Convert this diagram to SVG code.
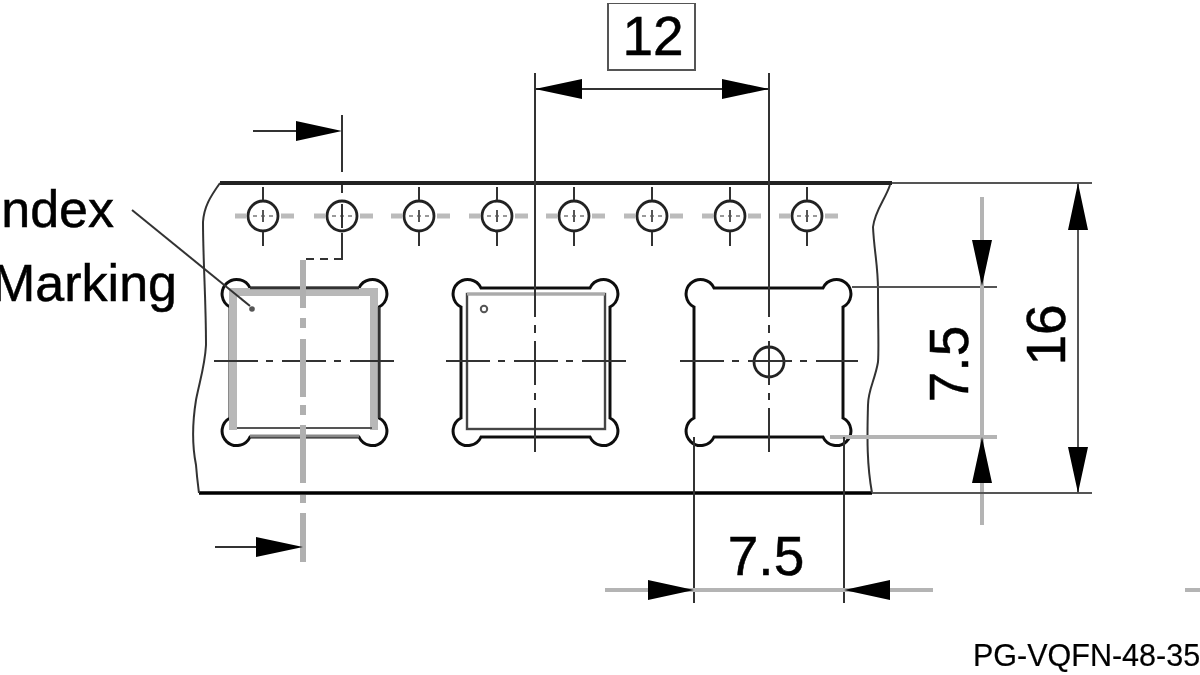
<svg xmlns="http://www.w3.org/2000/svg" xmlns:xlink="http://www.w3.org/1999/xlink" width="1200" height="675" viewBox="0 0 1200 675">
<style>
text{font-family:"Liberation Sans",Arial,sans-serif;fill:#000;stroke:#000;stroke-width:0.5px;font-size:52px}
.dim{font-size:55px}
.d{stroke:#333;stroke-width:2;fill:none}
.k{stroke:#111;stroke-width:3;fill:none}
.g{stroke:#b4b4b4;stroke-width:4;fill:none}
.m{stroke:#555;stroke-width:2;fill:none}
.a{fill:#000;stroke:none}
.c{stroke:#333;stroke-width:2;fill:none;stroke-dasharray:44 8 7 9}
</style>
<defs>
<filter id="soft" x="0" y="0" width="100%" height="100%"><feGaussianBlur stdDeviation="0.7"/></filter>
<path id="pocket" class="k" d="M250,288A14.6,14.6 0 1 0 230,307V418A14.6,14.6 0 1 0 250,437H359A14.6,14.6 0 1 0 379,418V307A14.6,14.6 0 1 0 359,288Z"/>
<g id="hole">
<path d="M-28,0H-17M18,0H31" stroke="#bbb" stroke-width="5" fill="none"/>
<path d="M-10,0H10" stroke="#999" stroke-width="2" stroke-dasharray="4 4"/>
<path d="M0,-6V6" stroke="#555" stroke-width="2"/>
<circle r="15" fill="none" stroke="#222" stroke-width="2.8"/>
</g>
<path id="ticks" class="d" d="M0,-29V-16M0,16V30"/>
</defs>
<g filter="url(#soft)">
<g id="tape">
<path d="M220,183H892" stroke="#222" stroke-width="4" fill="none"/>
<path d="M199,493H872" stroke="#000" stroke-width="3.4" fill="none"/>
<path class="d" d="M220,183C210,197 204,207 203,222C203,260 206,300 206,345C205,365 200,380 196,400C192,425 192,445 196,465C197,478 198,485 199,493"/>
<path class="d" d="M890,185C885,200 875,210 873,227C874,250 878,265 878,290C878,330 879,350 878,362C875,380 868,390 868,405C867,440 867,465 872,493"/>
</g>
<g id="sprockets">
<g transform="translate(263,216)"><use xlink:href="#hole" href="#hole"/><use xlink:href="#ticks" href="#ticks"/></g>
<g transform="translate(342,216)"><use xlink:href="#hole" href="#hole"/></g>
<g transform="translate(419,216)"><use xlink:href="#hole" href="#hole"/><use xlink:href="#ticks" href="#ticks"/></g>
<g transform="translate(497,216)"><use xlink:href="#hole" href="#hole"/><use xlink:href="#ticks" href="#ticks"/></g>
<g transform="translate(574,216)"><use xlink:href="#hole" href="#hole"/><use xlink:href="#ticks" href="#ticks"/></g>
<g transform="translate(652,216)"><use xlink:href="#hole" href="#hole"/><use xlink:href="#ticks" href="#ticks"/></g>
<g transform="translate(730,216)"><use xlink:href="#hole" href="#hole"/><use xlink:href="#ticks" href="#ticks"/></g>
<g transform="translate(807,216)"><use xlink:href="#hole" href="#hole"/><use xlink:href="#ticks" href="#ticks"/></g>
</g>
<g id="pocket-1">
<use xlink:href="#pocket" href="#pocket"/>
<path d="M233,430V292H374V430" stroke="#b8b8b8" stroke-width="8" fill="none"/>
<path d="M250,288H359M379,307V418" stroke="#333" stroke-width="2.4" fill="none"/>
<path class="m" d="M237,428H372"/>
<path d="M250,436H359" stroke="#888" stroke-width="3" fill="none"/>
<path class="c" d="M214,361H394"/>
</g>
<g id="pocket-2">
<rect x="467" y="294" width="138" height="135" stroke="#444" stroke-width="2.4" fill="none"/>
<path d="M467,294H605" stroke="#aaa" stroke-width="3" fill="none"/>
<use xlink:href="#pocket" href="#pocket" x="231"/>
<circle cx="484" cy="309" r="3.2" class="m"/>
<path class="c" d="M446,361H626"/>
</g>
<g id="pocket-3">
<use xlink:href="#pocket" href="#pocket" x="464"/>
<circle cx="769" cy="362" r="15" fill="none" stroke="#222" stroke-width="2.8"/>
<path class="c" d="M680,361H858"/>
</g>
<g id="connectors">
<path class="d" d="M535,73V317M535,325V333M535,341V385M535,393V400M535,408V452"/>
<path class="d" d="M769,73V317M769,325V333M769,341V385M769,393V400M769,408V452"/>
<path class="d" d="M535,89H769"/>
<path class="a" d="M535,89L582,79V99ZM769,89L722,79V99Z"/>
<path class="d" d="M253,131H300"/>
<path class="a" d="M342,131L296,121V141Z"/>
<path class="d" d="M342,115V172M342,185V193M342,204V228M342,233V260"/>
<path class="d" d="M342,259H303" stroke-dasharray="8 6"/>
<path d="M303,260V562" fill="none" stroke="#b0b0b0" stroke-width="6" stroke-dasharray="48 10 10 11 58 8 10 10 58 12 8 10 49"/>
<path class="d" d="M215,547H260"/>
<path class="a" d="M303,547L256,537V557Z"/>
<path class="d" d="M132,210L250,306"/>
<circle cx="252" cy="309" r="2.8" fill="#555"/>
<path class="m" d="M852,287H997"/>
<path class="g" d="M830,437H997"/>
<path class="g" d="M982,197V525"/>
<path class="a" d="M982,286L972,240H992ZM982,437L972,483H992Z"/>
<path class="m" d="M892,183H1092M872,493H1092"/>
<path class="m" d="M1078,183V493"/>
<path class="a" d="M1078,183L1068,230H1088ZM1078,493L1068,447H1088Z"/>
<path class="d" d="M694,437V603M844,437V603"/>
<path class="g" d="M605,590H933M1185,590H1200"/>
<path class="a" d="M694,590L648,580V600ZM844,590L890,580V600Z"/>
</g>
<g id="dim-12">
<rect x="608" y="3" width="87" height="67" fill="#fff" stroke="#555" stroke-width="2"/>
<text class="dim" x="653" y="55" text-anchor="middle">12</text>
</g>
<text x="114" y="227" text-anchor="end">Index</text>
<text x="177" y="301" text-anchor="end">Marking</text>
<text class="dim" x="766" y="575" text-anchor="middle">7.5</text>
<text class="dim" transform="translate(968,364) rotate(-90)" text-anchor="middle">7.5</text>
<text class="dim" transform="translate(1065,335) rotate(-90)" text-anchor="middle">16</text>
<text x="973" y="666" style="font-size:30.5px;stroke-width:0.2px">PG-VQFN-48-35</text>
</g>
</svg>
